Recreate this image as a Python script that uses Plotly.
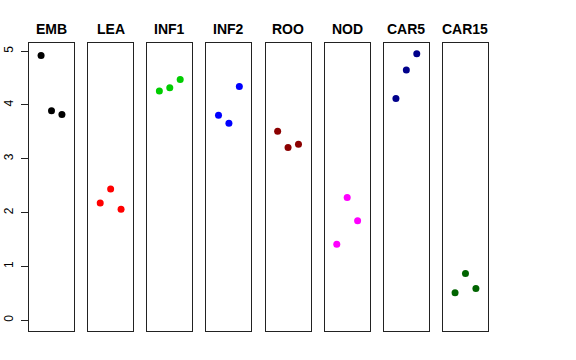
import plotly.graph_objects as go

panels = ["EMB", "LEA", "INF1", "INF2", "ROO", "NOD", "CAR5", "CAR15"]
colors = ["#000000", "#FF0000", "#00CD00", "#0000FF", "#8B0000", "#FF00FF", "#00008B", "#006400"]
xpos = [1, 2, 3]
values = {
    "EMB":   [4.92, 3.89, 3.82],
    "LEA":   [2.18, 2.44, 2.06],
    "INF1":  [4.26, 4.32, 4.47],
    "INF2":  [3.81, 3.66, 4.34],
    "ROO":   [3.51, 3.21, 3.27],
    "NOD":   [1.41, 2.28, 1.85],
    "CAR5":  [4.12, 4.65, 4.95],
    "CAR15": [0.51, 0.87, 0.59],
}
ytick_vals = [0, 1, 2, 3, 4, 5]

W, H = 576, 360
L, R, T, B = 29, 88, 43, 29
plot_w = W - L - R
step = 59.14
pw = 45

fig = go.Figure()
layout = dict(
    width=W, height=H, margin=dict(l=L, r=R, t=T, b=B, autoexpand=False),
    paper_bgcolor="white", plot_bgcolor="white", showlegend=False,
    font=dict(family="Liberation Sans, Arial, sans-serif", color="black"),
)
annotations = []
for i, name in enumerate(panels):
    n = i + 1
    xa = "x" if n == 1 else f"x{n}"
    ya = "y" if n == 1 else f"y{n}"
    fig.add_trace(go.Scatter(
        x=xpos, y=values[name], mode="markers", xaxis=xa, yaxis=ya,
        marker=dict(color=colors[i], size=7, line=dict(width=0)),
    ))
    d0 = i * step / plot_w
    d1 = min(1.0, (i * step + pw) / plot_w)
    layout["xaxis" if n == 1 else f"xaxis{n}"] = dict(
        domain=[d0, d1], range=[-0.16, 4.16], anchor=ya, automargin=False,
        showgrid=False, zeroline=False, showticklabels=False, ticks="",
        showline=True, mirror=True, linecolor="#222222", linewidth=1,
    )
    yax = dict(
        range=[-0.2, 5.15], anchor=xa, showgrid=False, zeroline=False, automargin=False,
        showline=True, mirror=True, linecolor="#222222", linewidth=1,
        tickvals=ytick_vals,
    )
    if n == 1:
        yax.update(ticks="outside", ticklen=7, tickwidth=1, tickcolor="#222222",
                   tickangle=-90, tickfont=dict(size=12), showticklabels=True,
                   ticklabelstandoff=3)
    else:
        yax.update(ticks="", showticklabels=False, matches="y")
    layout["yaxis" if n == 1 else f"yaxis{n}"] = yax
    annotations.append(dict(
        text=f"<b>{name}</b>", x=(d0 + d1) / 2, y=1, xref="paper", yref="paper",
        xanchor="center", yanchor="bottom", yshift=4, showarrow=False,
        font=dict(size=14, color="black"),
    ))
layout["annotations"] = annotations
fig.update_layout(**layout)
fig.write_html("out.html", config={"displayModeBar": False},
               post_script="document.body.style.margin='0';")
